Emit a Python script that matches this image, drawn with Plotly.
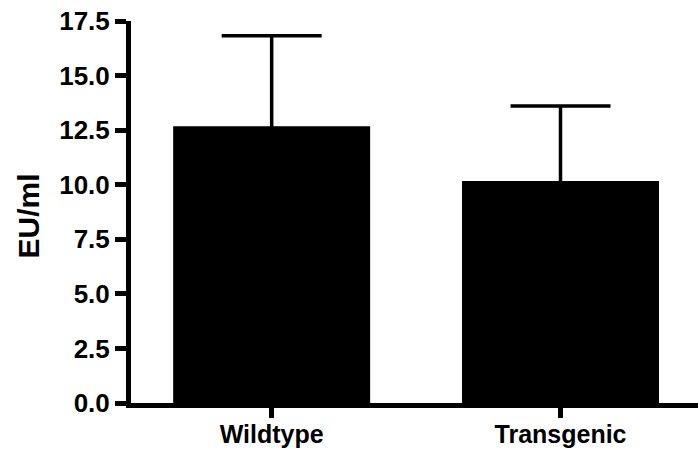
import plotly.graph_objects as go

categories = ["Wildtype", "Transgenic"]
means = [12.68, 10.17]
errors = [4.15, 3.44]
y_ticks = [0, 2.5, 5, 7.5, 10, 12.5, 15, 17.5]
y_tick_labels = ["0.0", "2.5", "5.0", "7.5", "10.0", "12.5", "15.0", "17.5"]

W, H = 698, 457
L, R, T, B = 131, 0, 21, 54

fig = go.Figure()
fig.add_trace(go.Bar(
    x=[0, 1],
    y=means,
    width=0.682,
    marker=dict(color="black", line=dict(width=0)),
    error_y=dict(type="data", symmetric=True, array=errors,
                 color="black", thickness=3.5, width=50),
    showlegend=False,
))

fig.update_layout(
    width=W, height=H,
    margin=dict(l=L, r=R, t=T, b=B, pad=0),
    paper_bgcolor="white", plot_bgcolor="white",
    font=dict(family="Liberation Sans, Arial, sans-serif", color="black"),
    xaxis=dict(
        range=[-0.487, 1.476],
        tickmode="array", tickvals=[0, 1], ticktext=categories,
        showline=True, linecolor="black", linewidth=5,
        ticks="outside", ticklen=10, tickwidth=5, tickcolor="black",
        ticklabelstandoff=-5,
        showgrid=False, zeroline=False,
        tickfont=dict(size=25, family="Liberation Sans, Arial, sans-serif", weight="bold"),
    ),
    yaxis=dict(
        range=[0, 17.5],
        tickmode="array", tickvals=y_ticks, ticktext=y_tick_labels,
        showline=True, linecolor="black", linewidth=5,
        ticks="outside", ticklen=11, tickwidth=5, tickcolor="black",
        showgrid=False, zeroline=False,
        tickfont=dict(size=26, family="Liberation Sans, Arial, sans-serif", weight="bold"),
    ),
    annotations=[dict(
        text="<b>EU/ml</b>", textangle=-90,
        xref="paper", yref="paper",
        x=(27.5 - L) / (W - L - R), y=(403 - 216) / (403 - 21),
        xanchor="center", yanchor="middle", showarrow=False,
        font=dict(size=30, family="Liberation Sans, Arial, sans-serif", color="black"),
    )],
)

fig.write_html("out.html")
